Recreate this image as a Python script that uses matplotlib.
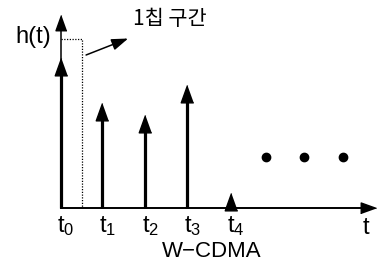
import matplotlib.pyplot as plt

plt.rcParams['font.family'] = ['Liberation Sans', 'Noto Sans CJK KR', 'DejaVu Sans']
plt.rcParams['mathtext.fontset'] = 'custom'
plt.rcParams['mathtext.rm'] = 'Liberation Sans'
plt.rcParams['mathtext.default'] = 'rm'

# impulse response taps (time in chip units, relative amplitude)
tap_times = [0, 0.97, 1.98, 2.97, 4.0]
tap_amps = [1.0, 0.70, 0.62, 0.82, 0.10]
tap_labels = ['$t_0$', '$t_1$', '$t_2$', '$t_3$', '$t_4$']
dots_x = [4.82, 5.72, 6.64]
dots_y = [0.34, 0.34, 0.34]
chip_width = 0.49
chip_height = 1.127

fig = plt.figure(figsize=(3.77, 2.70), dpi=100)
ax = fig.add_axes([0, 0, 1, 1])
ax.set_xlim(-61 / 42.5, 316 / 42.5)
ax.set_ylim(-62 / 150, 208 / 150)
ax.axis('off')

up_head = [(0, 0), (-0.36, -1), (0.36, -1)]
right_head = [(0, 0), (-1, 0.36), (-1, -0.36)]

# axes
ax.plot([0, 0], [0, 1.25], color='k', lw=1.1)
ax.plot([0], [1.29], marker=up_head, ms=22, color='k')
ax.plot([0, 7.3], [0, 0], color='k', lw=1.4)
ax.plot([7.41], [0], marker=right_head, ms=22, color='k')

# taps
for t, a in zip(tap_times, tap_amps):
    if a > 0.2:
        ax.plot([t, t], [0, a - 0.05], color='k', lw=2.3, solid_capstyle='butt')
    ax.plot([t], [a], marker=up_head, ms=25, color='k')

for t, lab in zip(tap_times, tap_labels):
    ax.text(t + 0.12, -0.12, lab, ha='center', va='center', fontsize=17)

# one chip interval box
ax.plot([0, chip_width, chip_width], [chip_height, chip_height, 0],
        color='k', lw=0.9, ls=(0, (1, 1.2)))
ax.annotate('', xy=(1.58, 1.13), xytext=(0.59, 1.02),
            arrowprops=dict(arrowstyle='-|>,head_length=1.0,head_width=0.35',
                            color='k', lw=1.1, shrinkA=0, shrinkB=0))
ax.text(1.69, 1.26, '1칩 구간', ha='left', va='center', fontsize=15,
        family=['Noto Sans CJK KR', 'DejaVu Sans'])

ax.plot(dots_x, dots_y, 'o', color='k', ms=6)

ax.text(-0.66, 1.14, 'h(t)', ha='center', va='center', fontsize=17)
ax.text(7.18, -0.135, 't', ha='center', va='center', fontsize=17)
ax.text(3.55, -0.29, 'W\u2212CDMA', ha='center', va='center', fontsize=16)

plt.savefig('out.png', dpi=100)
